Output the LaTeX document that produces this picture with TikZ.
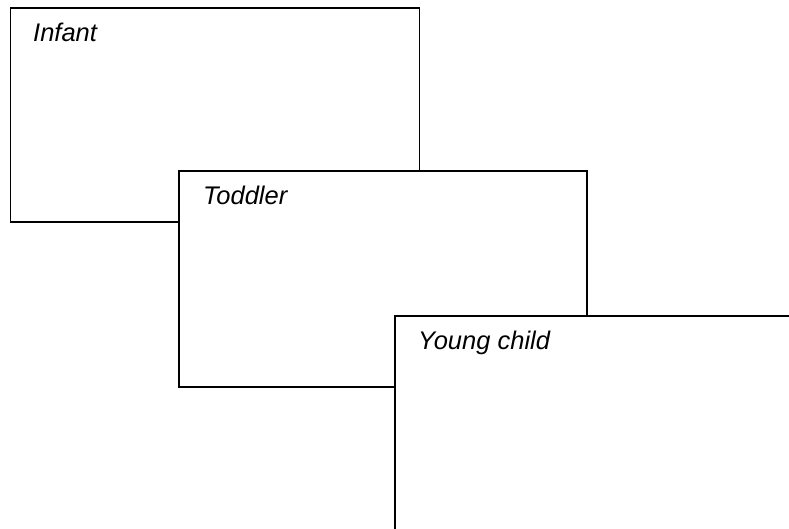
\documentclass[tikz,border=0pt]{standalone}
\usepackage{fontspec}
\setmainfont{Liberation Sans}
\begin{document}
\begin{tikzpicture}[x=1pt,y=-1pt,
  stage/.style={draw=black, line width=1.7pt, fill=white, rectangle, inner sep=0pt, anchor=north west},
  stagelabel/.style={anchor=base west, inner sep=0pt, font=\fontsize{25.5}{30}\selectfont\itshape}]
\useasboundingbox (0,0) rectangle (789,529);
\clip (0,0) rectangle (789,529);
\node[stage, minimum width=409pt, minimum height=214pt] (infant) at (9.5,7.5) {};
\node[stagelabel] (infantlbl) at (33,42) {Infant};
\node[stage, minimum width=408pt, minimum height=216pt] (toddler) at (178,170) {};
\node[stagelabel] (toddlerlbl) at (203,205) {Toddler};
\node[stage, minimum width=420pt, minimum height=230pt] (young) at (394,315) {};
\node[stagelabel] (younglbl) at (418,349) {Young child};
\end{tikzpicture}
\end{document}
